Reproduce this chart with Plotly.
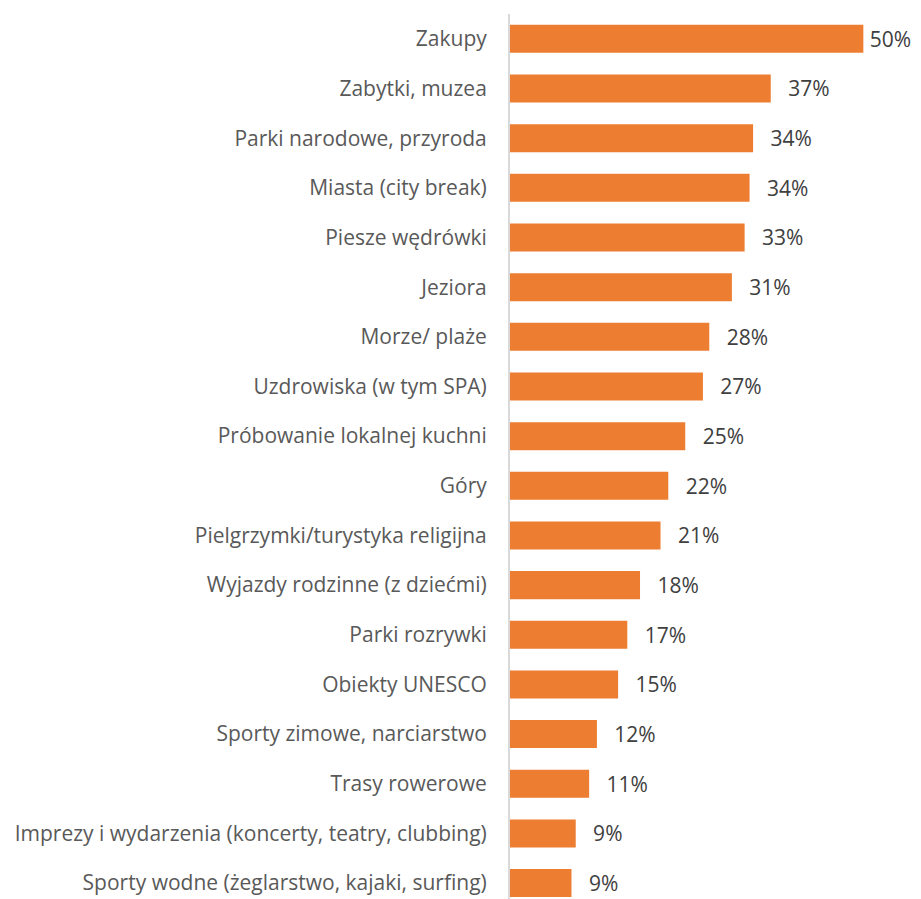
import plotly.graph_objects as go

categories = [
    "Zakupy",
    "Zabytki, muzea",
    "Parki narodowe, przyroda",
    "Miasta (city break)",
    "Piesze wędrówki",
    "Jeziora",
    "Morze/ plaże",
    "Uzdrowiska (w tym SPA)",
    "Próbowanie lokalnej kuchni",
    "Góry",
    "Pielgrzymki/turystyka religijna",
    "Wyjazdy rodzinne (z dziećmi)",
    "Parki rozrywki",
    "Obiekty UNESCO",
    "Sporty zimowe, narciarstwo",
    "Trasy rowerowe",
    "Imprezy i wydarzenia (koncerty, teatry, clubbing)",
    "Sporty wodne (żeglarstwo, kajaki, surfing)",
]
values = [50.0, 36.9, 34.4, 33.9, 33.2, 31.4, 28.2, 27.3, 24.8, 22.4,
          21.3, 18.4, 16.6, 15.3, 12.3, 11.2, 9.3, 8.7]

BAR_COLOR = "#ED7D31"
FONT = "Open Sans"

vmax = max(values)
labels = [
    ("\u2009" if v == vmax else "\u00a0\u00a0\u2009") + f"{round(v)}%"
    for v in values
]

fig = go.Figure(go.Bar(
    y=categories,
    x=values,
    orientation="h",
    marker=dict(color=BAR_COLOR, line=dict(width=0)),
    width=0.564,
    text=labels,
    textposition="outside",
    textfont=dict(family=FONT, size=21, color="#404040"),
    cliponaxis=False,
    hoverinfo="skip",
))

fig.update_layout(
    width=913,
    height=891,
    margin=dict(l=502, r=0, t=6, b=0, autoexpand=False),
    paper_bgcolor="white",
    plot_bgcolor="white",
    showlegend=False,
    font=dict(family=FONT, size=21, color="#595959"),
)
fig.update_xaxes(
    range=[0, 58.16],
    visible=False,
    showgrid=False,
    zeroline=False,
)
fig.update_yaxes(
    type="category",
    range=[17.32, -0.5],
    showline=True,
    linecolor="#D9D9D9",
    linewidth=2,
    showgrid=False,
    ticks="",
    ticklabelstandoff=17,
    tickfont=dict(family=FONT, size=21, color="#595959"),
)

fig.write_html("out.html", post_script="document.body.style.overflow='hidden';")
